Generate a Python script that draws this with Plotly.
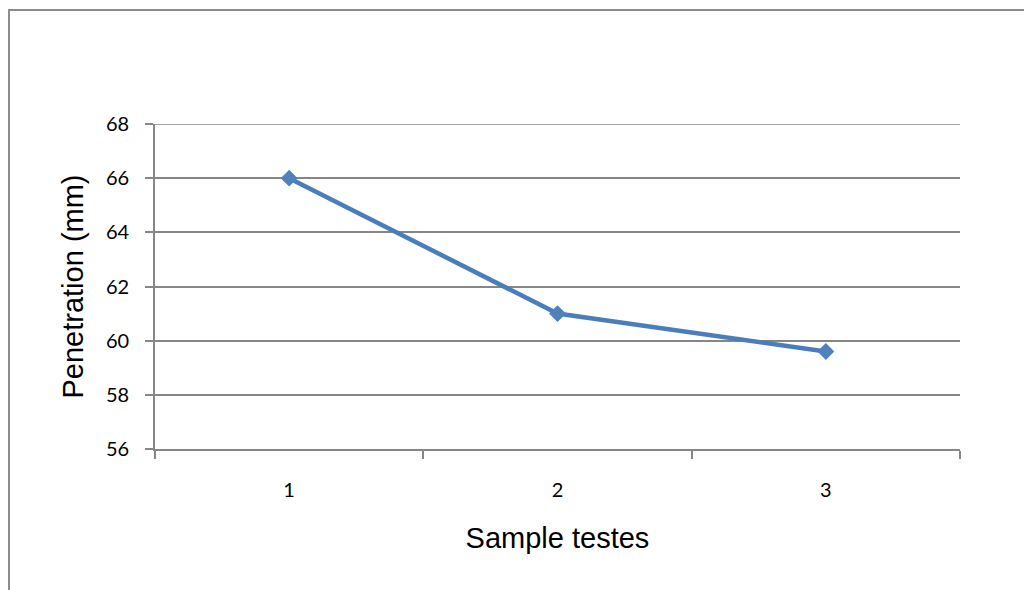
import plotly.graph_objects as go

# Penetration measured for each sample test
samples = ["1", "2", "3"]
penetration_mm = [66, 61, 59.6]
y_ticks = [56, 58, 60, 62, 64, 66, 68]

W, H = 1024, 590
L, R, T, B = 155, 64, 124, 141
plot_w = W - L - R
plot_h = H - T - B


def px_to_paper_x(px):
    return (px - L) / plot_w


def px_to_paper_y(py):
    return (H - B - py) / plot_h


grid_col = "#868686"
tick_font = dict(family="Lato, Open Sans, sans-serif", size=20, color="black")
title_font = dict(family="Liberation Sans, Arial, sans-serif", size=29, color="black")

fig = go.Figure()
fig.add_trace(go.Scatter(
    x=samples,
    y=penetration_mm,
    mode="lines+markers",
    line=dict(color="#4A7EBB", width=4.5),
    marker=dict(symbol="diamond", size=13, color="#4F81BD"),
    showlegend=False,
))

fig.update_layout(
    width=W, height=H,
    margin=dict(l=L, r=R, t=T, b=B, pad=0),
    paper_bgcolor="white",
    plot_bgcolor="white",
    font=dict(family="Lato, Open Sans, sans-serif", color="black"),
    xaxis=dict(
        type="category",
        range=[-0.5, 2.5],
        tickson="boundaries",
        ticks="outside",
        ticklen=8,
        tickwidth=1.6,
        tickcolor=grid_col,
        showline=True,
        linecolor=grid_col,
        linewidth=1.6,
        showgrid=False,
        zeroline=False,
        tickfont=tick_font,
        ticklabelstandoff=22,
        title=dict(text="Sample testes", font=title_font, standoff=28),
    ),
    yaxis=dict(
        range=[56, 68],
        tickvals=y_ticks,
        ticktext=[str(v) for v in y_ticks],
        ticks="outside",
        ticklen=8,
        tickwidth=1.6,
        tickcolor=grid_col,
        showline=True,
        linecolor=grid_col,
        linewidth=1.6,
        showgrid=True,
        gridcolor=grid_col,
        gridwidth=1.6,
        zeroline=False,
        tickfont=tick_font,
        ticklabelstandoff=12,
        title=dict(text="Penetration (mm)", font=title_font, standoff=14),
    ),
    shapes=[
        # gridline along the top of the value range
        dict(
            type="line", xref="paper", yref="y",
            x0=0, x1=1, y0=y_ticks[-1], y1=y_ticks[-1],
            line=dict(color=grid_col, width=1.6),
            layer="below",
        ),
        # chart frame, running past the right and bottom edges
        dict(
            type="rect", xref="paper", yref="paper", layer="below",
            x0=px_to_paper_x(9), x1=px_to_paper_x(1040),
            y0=px_to_paper_y(610), y1=px_to_paper_y(10),
            line=dict(color="#8C8C8C", width=2),
            fillcolor="rgba(0,0,0,0)",
        ),
    ],
)

fig.write_html("out.html")
